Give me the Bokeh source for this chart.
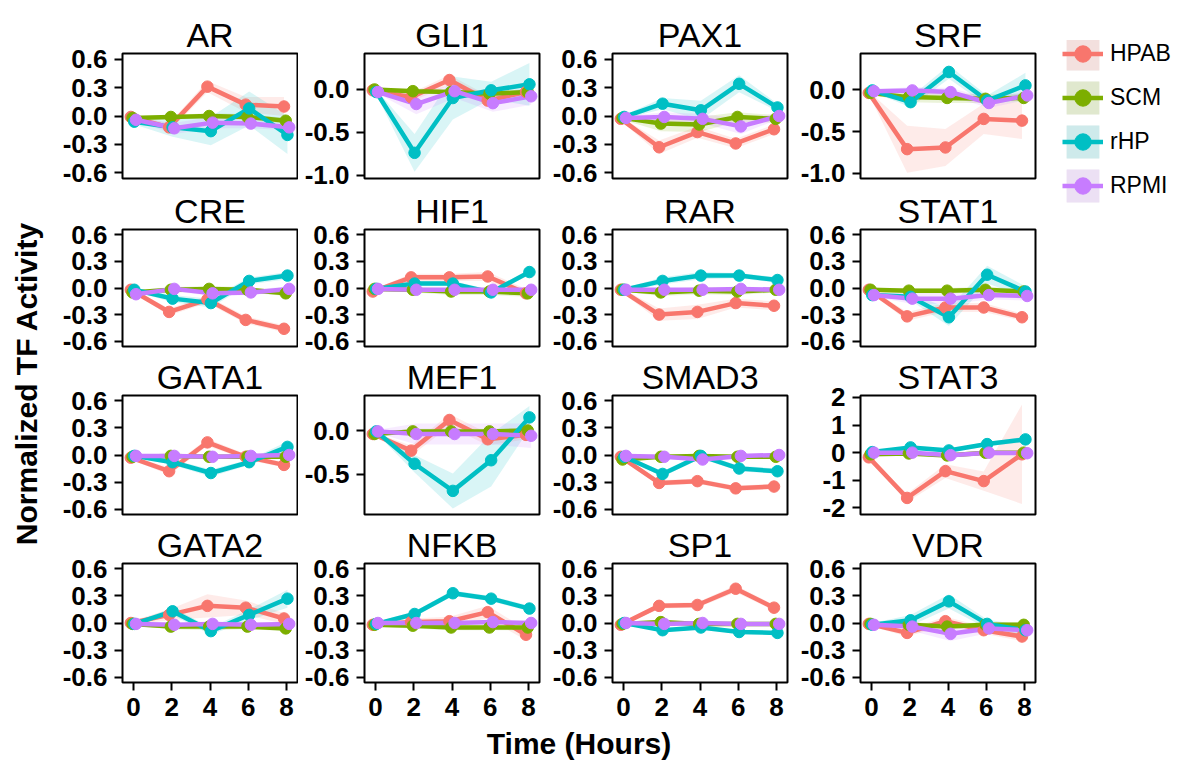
import numpy as np
from bokeh.plotting import figure
from bokeh.layouts import row, column
from bokeh.models import (ColumnDataSource, Range1d, FixedTicker, PrintfTickFormatter,
                          Legend, LegendItem, Label)
from bokeh.embed import file_html
from bokeh.resources import INLINE

FONT = "Liberation Sans"

TIME = [0, 2, 4, 6, 8]
GROUPS = ["HPAB", "SCM", "rHP", "RPMI"]
COLORS = ["#F8766D", "#7CAE00", "#00BFC4", "#C77CFF"]
TFS = ["AR", "GLI1", "PAX1", "SRF",
       "CRE", "HIF1", "RAR", "STAT1",
       "GATA1", "MEF1", "SMAD3", "STAT3",
       "GATA2", "NFKB", "SP1", "VDR"]

HPAB = {
    "AR": [-0.01, -0.12, 0.31, 0.12, 0.10],
    "GLI1": [-0.01, -0.09, 0.11, -0.13, -0.03],
    "PAX1": [-0.03, -0.33, -0.17, -0.29, -0.14],
    "SRF": [-0.04, -0.71, -0.69, -0.35, -0.37],
    "CRE": [-0.02, -0.27, -0.13, -0.36, -0.46],
    "HIF1": [-0.04, 0.12, 0.12, 0.13, -0.06],
    "RAR": [-0.02, -0.30, -0.27, -0.17, -0.20],
    "STAT1": [-0.02, -0.32, -0.22, -0.22, -0.33],
    "GATA1": [-0.03, -0.18, 0.14, -0.02, -0.11],
    "MEF1": [-0.04, -0.23, 0.12, -0.10, -0.05],
    "SMAD3": [-0.02, -0.31, -0.29, -0.37, -0.35],
    "STAT3": [-0.17, -1.64, -0.67, -1.03, -0.06],
    "GATA2": [0.00, 0.09, 0.19, 0.17, 0.05],
    "NFKB": [-0.02, 0.01, 0.02, 0.12, -0.13],
    "SP1": [-0.02, 0.19, 0.20, 0.38, 0.17],
    "VDR": [-0.01, -0.11, 0.02, -0.08, -0.15],
}
SCM = {
    "AR": [-0.02, -0.01, 0.00, -0.01, -0.05],
    "GLI1": [0.00, -0.02, -0.03, -0.05, -0.03],
    "PAX1": [-0.02, -0.08, -0.09, -0.01, -0.03],
    "SRF": [-0.04, -0.09, -0.10, -0.11, -0.10],
    "CRE": [-0.05, -0.02, -0.01, -0.02, -0.06],
    "HIF1": [-0.01, -0.02, -0.04, -0.04, -0.06],
    "RAR": [-0.02, -0.05, -0.03, -0.04, -0.02],
    "STAT1": [-0.02, -0.03, -0.03, -0.02, -0.04],
    "GATA1": [-0.02, -0.01, -0.02, -0.02, -0.02],
    "MEF1": [-0.04, -0.01, -0.01, -0.01, 0.00],
    "SMAD3": [-0.05, -0.02, -0.01, -0.02, -0.02],
    "STAT3": [-0.06, -0.03, -0.10, 0.00, 0.00],
    "GATA2": [-0.01, -0.04, -0.04, -0.04, -0.06],
    "NFKB": [-0.02, -0.03, -0.05, -0.05, -0.05],
    "SP1": [-0.01, 0.01, -0.01, -0.01, -0.01],
    "VDR": [-0.01, -0.02, -0.04, -0.02, -0.02],
}
RHP = {
    "AR": [-0.06, -0.12, -0.16, 0.08, -0.20],
    "GLI1": [-0.03, -0.74, -0.10, -0.01, 0.06],
    "PAX1": [-0.01, 0.13, 0.06, 0.34, 0.09],
    "SRF": [-0.01, -0.15, 0.21, -0.13, 0.05],
    "CRE": [-0.02, -0.12, -0.17, 0.08, 0.14],
    "HIF1": [-0.01, 0.05, 0.05, -0.05, 0.18],
    "RAR": [-0.02, 0.08, 0.14, 0.14, 0.09],
    "STAT1": [-0.08, -0.10, -0.33, 0.15, -0.04],
    "GATA1": [-0.01, -0.08, -0.20, -0.08, 0.09],
    "MEF1": [-0.01, -0.38, -0.69, -0.34, 0.15],
    "SMAD3": [-0.02, -0.21, -0.01, -0.15, -0.18],
    "STAT3": [0.02, 0.19, 0.08, 0.31, 0.48],
    "GATA2": [-0.01, 0.13, -0.09, 0.09, 0.27],
    "NFKB": [-0.01, 0.10, 0.33, 0.27, 0.16],
    "SP1": [0.00, -0.08, -0.05, -0.10, -0.11],
    "VDR": [-0.02, 0.03, 0.24, -0.01, -0.08],
}
RPMI = {
    "AR": [-0.04, -0.13, -0.07, -0.08, -0.12],
    "GLI1": [-0.03, -0.17, -0.02, -0.16, -0.08],
    "PAX1": [-0.02, -0.01, -0.03, -0.11, 0.00],
    "SRF": [-0.02, -0.01, -0.03, -0.16, -0.07],
    "CRE": [-0.07, -0.01, -0.06, -0.05, -0.01],
    "HIF1": [-0.01, -0.02, -0.02, -0.02, -0.02],
    "RAR": [-0.02, -0.02, -0.02, -0.01, -0.02],
    "STAT1": [-0.08, -0.12, -0.12, -0.08, -0.09],
    "GATA1": [-0.01, -0.01, -0.02, -0.01, 0.00],
    "MEF1": [-0.01, -0.04, -0.04, -0.04, -0.06],
    "SMAD3": [-0.01, -0.02, -0.05, -0.01, 0.00],
    "STAT3": [0.00, 0.00, -0.09, 0.00, -0.02],
    "GATA2": [-0.01, -0.02, -0.01, -0.02, -0.01],
    "NFKB": [0.00, 0.00, 0.00, 0.01, 0.00],
    "SP1": [0.00, -0.01, 0.00, -0.01, -0.01],
    "VDR": [-0.02, -0.04, -0.12, -0.06, -0.08],
}

# half-widths of the shaded ribbons
HPAB_SE = {
    "AR": [0.02, 0.04, 0.06, 0.08, 0.10],
    "GLI1": [0.02, 0.05, 0.06, 0.06, 0.05],
    "PAX1": [0.02, 0.07, 0.06, 0.05, 0.05],
    "SRF": [0.02, 0.28, 0.22, 0.18, 0.22],
    "CRE": [0.02, 0.04, 0.04, 0.04, 0.04],
    "HIF1": [0.02, 0.04, 0.04, 0.05, 0.05],
    "RAR": [0.02, 0.07, 0.08, 0.05, 0.05],
    "STAT1": [0.02, 0.05, 0.05, 0.05, 0.04],
    "GATA1": [0.02, 0.04, 0.04, 0.03, 0.03],
    "MEF1": [0.02, 0.06, 0.07, 0.07, 0.05],
    "SMAD3": [0.02, 0.03, 0.03, 0.03, 0.03],
    "STAT3": [0.05, 0.15, 0.25, 0.35, 1.80],
    "GATA2": [0.02, 0.06, 0.13, 0.08, 0.06],
    "NFKB": [0.02, 0.04, 0.05, 0.07, 0.06],
    "SP1": [0.02, 0.03, 0.03, 0.04, 0.03],
    "VDR": [0.02, 0.04, 0.05, 0.04, 0.05],
}
SCM_SE = {
    "AR": [0.02, 0.02, 0.03, 0.03, 0.03],
    "GLI1": [0.02, 0.03, 0.03, 0.03, 0.03],
    "PAX1": [0.02, 0.08, 0.08, 0.05, 0.04],
    "SRF": [0.02, 0.06, 0.06, 0.05, 0.05],
    "CRE": [0.02, 0.03, 0.03, 0.03, 0.03],
    "HIF1": [0.02, 0.03, 0.04, 0.04, 0.04],
    "RAR": [0.02, 0.04, 0.04, 0.04, 0.03],
    "STAT1": [0.02, 0.03, 0.03, 0.03, 0.03],
    "GATA1": [0.02, 0.02, 0.02, 0.02, 0.02],
    "MEF1": [0.02, 0.03, 0.03, 0.03, 0.03],
    "SMAD3": [0.02, 0.02, 0.02, 0.02, 0.02],
    "STAT3": [0.03, 0.05, 0.05, 0.05, 0.05],
    "GATA2": [0.02, 0.03, 0.04, 0.03, 0.03],
    "NFKB": [0.02, 0.03, 0.03, 0.03, 0.03],
    "SP1": [0.02, 0.02, 0.02, 0.02, 0.02],
    "VDR": [0.02, 0.03, 0.03, 0.03, 0.03],
}
RHP_SE = {
    "AR": [0.03, 0.10, 0.15, 0.18, 0.20],
    "GLI1": [0.03, 0.22, 0.25, 0.10, 0.25],
    "PAX1": [0.02, 0.06, 0.10, 0.09, 0.04],
    "SRF": [0.02, 0.06, 0.08, 0.06, 0.15],
    "CRE": [0.02, 0.04, 0.05, 0.04, 0.04],
    "HIF1": [0.02, 0.03, 0.03, 0.03, 0.03],
    "RAR": [0.02, 0.04, 0.04, 0.03, 0.03],
    "STAT1": [0.02, 0.04, 0.10, 0.10, 0.06],
    "GATA1": [0.02, 0.03, 0.04, 0.03, 0.06],
    "MEF1": [0.02, 0.10, 0.20, 0.30, 0.13],
    "SMAD3": [0.02, 0.03, 0.03, 0.03, 0.03],
    "STAT3": [0.03, 0.08, 0.08, 0.08, 0.10],
    "GATA2": [0.02, 0.04, 0.04, 0.06, 0.10],
    "NFKB": [0.02, 0.03, 0.03, 0.03, 0.03],
    "SP1": [0.02, 0.02, 0.02, 0.02, 0.02],
    "VDR": [0.02, 0.06, 0.08, 0.05, 0.05],
}
RPMI_SE = {
    "AR": [0.02, 0.06, 0.06, 0.05, 0.03],
    "GLI1": [0.02, 0.12, 0.08, 0.10, 0.10],
    "PAX1": [0.02, 0.05, 0.05, 0.08, 0.03],
    "SRF": [0.02, 0.04, 0.05, 0.06, 0.05],
    "CRE": [0.02, 0.03, 0.03, 0.03, 0.03],
    "HIF1": [0.02, 0.02, 0.02, 0.02, 0.02],
    "RAR": [0.02, 0.02, 0.02, 0.02, 0.02],
    "STAT1": [0.02, 0.06, 0.06, 0.05, 0.05],
    "GATA1": [0.02, 0.02, 0.02, 0.02, 0.02],
    "MEF1": [0.02, 0.12, 0.12, 0.12, 0.14],
    "SMAD3": [0.02, 0.02, 0.02, 0.02, 0.02],
    "STAT3": [0.03, 0.05, 0.05, 0.05, 0.05],
    "GATA2": [0.02, 0.02, 0.02, 0.02, 0.02],
    "NFKB": [0.02, 0.02, 0.02, 0.02, 0.02],
    "SP1": [0.02, 0.02, 0.02, 0.02, 0.02],
    "VDR": [0.02, 0.05, 0.08, 0.05, 0.04],
}

X_TICKS = [0, 2, 4, 6, 8]
STD_TICKS = [-0.6, -0.3, 0.0, 0.3, 0.6]
Y_TICKS = {"GLI1": [-1.0, -0.5, 0.0], "SRF": [-1.0, -0.5, 0.0],
           "MEF1": [-0.5, 0.0], "STAT3": [-2, -1, 0, 1, 2]}
Y_RANGES = {"GLI1": (-1.04, 0.42), "SRF": (-1.06, 0.43),
            "MEF1": (-0.96, 0.40), "STAT3": (-2.24, 2.07)}

VALUES = {"HPAB": HPAB, "SCM": SCM, "rHP": RHP, "RPMI": RPMI}
ERRORS = {"HPAB": HPAB_SE, "SCM": SCM_SE, "rHP": RHP_SE, "RPMI": RPMI_SE}
DODGE = [-0.135, -0.045, 0.045, 0.135]

FRAME_W, FRAME_H = 175, 125
YLAB_W = 56
LEFT = 66
RIGHTS = [1, 7, 7, 2]
TOPS = [53, 32, 34, 34]
BOTTOMS = [11, 9, 9, 44]
LEG_W = 140
PAGE_H = 760


def style_axis(ax):
    ax.axis_line_color = None
    ax.major_tick_line_color = "black"
    ax.major_tick_line_width = 2
    ax.major_tick_out = 8
    ax.major_tick_in = 0
    ax.minor_tick_line_color = None
    ax.major_label_text_font = FONT
    ax.major_label_text_font_style = "bold"
    ax.major_label_text_font_size = "26px"
    ax.major_label_text_color = "black"
    ax.major_label_standoff = 7


def hide_title(f):
    f.title.text_font_size = "0px"
    f.title.standoff = 0
    f.title.offset = 0
    f.title.visible = False


def panel(tf, r, c):
    yr = Y_RANGES.get(tf, (-0.66, 0.66))
    p = figure(width=LEFT + FRAME_W + RIGHTS[c],
               height=TOPS[r] + FRAME_H + BOTTOMS[r],
               x_range=Range1d(-0.57, 8.57), y_range=Range1d(*yr),
               output_backend="svg", toolbar_location=None,
               x_axis_location="below" if r == 3 else None,
               title=tf,
               min_border_left=LEFT, min_border_right=RIGHTS[c],
               min_border_top=TOPS[r], min_border_bottom=BOTTOMS[r])
    p.title.align = "center"
    p.title.text_font = FONT
    p.title.text_font_style = "normal"
    p.title.text_font_size = "34px"
    p.title.text_line_height = 0.8
    p.title.text_color = "black"
    p.title.standoff = 0
    p.title.offset = 0
    p.grid.visible = False
    p.outline_line_color = "black"
    p.outline_line_width = 2
    p.outline_line_alpha = 1
    p.background_fill_color = "white"
    p.border_fill_color = "white"

    ticks = Y_TICKS.get(tf, STD_TICKS)
    p.yaxis.ticker = FixedTicker(ticks=ticks)
    p.yaxis.formatter = PrintfTickFormatter(format="%d" if tf == "STAT3" else "%.1f")
    style_axis(p.yaxis[0])
    if r == 3:
        p.xaxis.ticker = FixedTicker(ticks=X_TICKS)
        p.xaxis.formatter = PrintfTickFormatter(format="%d")
        style_axis(p.xaxis[0])

    sources = []
    for g, off in zip(GROUPS, DODGE):
        y = np.array(VALUES[g][tf], dtype=float)
        e = np.array(ERRORS[g][tf], dtype=float)
        x = np.array(TIME, dtype=float) + off
        sources.append(ColumnDataSource(dict(x=x, y=y, lo=y - e, hi=y + e)))
    for src, col in zip(sources, COLORS):
        p.varea(x="x", y1="lo", y2="hi", source=src, fill_color=col, fill_alpha=0.15)
    for src, col in zip(sources, COLORS):
        p.line(x="x", y="y", source=src, line_color=col, line_width=4.5, line_join="round")
    for src, col in zip(sources, COLORS):
        p.scatter(x="x", y="y", source=src, marker="circle", size=11.5,
                  fill_color=col, line_color=col)
    return p, sources


rows = []
all_sources = {}
for r in range(4):
    figs = []
    for c in range(4):
        tf = TFS[r * 4 + c]
        f, srcs = panel(tf, r, c)
        all_sources[tf] = srcs
        figs.append(f)
    rows.append(row(figs, spacing=0))
panels = column(rows, spacing=0)

TOTAL_H = sum(TOPS) + 4 * FRAME_H + sum(BOTTOMS)
COLS_W = sum(LEFT + FRAME_W + rr for rr in RIGHTS)

# y-axis title
ylab = figure(width=YLAB_W, height=TOTAL_H, output_backend="svg", toolbar_location=None,
              x_range=Range1d(0, 1), y_range=Range1d(0, 1),
              x_axis_location=None, y_axis_location=None,
              title="Normalized TF Activity", title_location="left",
              min_border_left=42, min_border_right=0,
              min_border_top=2 * 383 - TOTAL_H, min_border_bottom=0)
ylab.outline_line_color = None
ylab.grid.visible = False
ylab.title.align = "center"
ylab.title.text_font = FONT
ylab.title.text_font_style = "bold"
ylab.title.text_font_size = "30px"
ylab.title.text_color = "black"
ylab.title.standoff = 0

# legend (keys reuse the series of one panel; its ranges keep the marks out of view)
leg = figure(width=LEG_W, height=TOTAL_H, output_backend="svg", toolbar_location=None,
             x_range=Range1d(100, 101), y_range=Range1d(100, 101),
             x_axis_location=None, y_axis_location=None, min_border=0)
hide_title(leg)
leg.outline_line_color = None
leg.grid.visible = False
key_sources = all_sources["SRF"]
backdrop = leg.varea(x="x", y1="lo", y2="hi", source=key_sources[0],
                     fill_color="#F2F2F2", fill_alpha=1)
items = []
for g, col, src in zip(GROUPS, COLORS, key_sources):
    band = leg.varea(x="x", y1="lo", y2="hi", source=src, fill_color=col, fill_alpha=0.15)
    ln = leg.line(x="x", y="y", source=src, line_color=col, line_width=4.5)
    pt = leg.scatter(x="x", y="y", source=src, marker="circle", size=11.5,
                     fill_color=col, line_color=col)
    items.append(LegendItem(label=g, renderers=[backdrop, band, ln, pt]))
LEG_KEY = 41
LEG_SP = 3
leg_h = 4 * LEG_KEY + 3 * LEG_SP
legend = Legend(items=items, location=(25, TOTAL_H - 33 - leg_h), margin=0, padding=0,
                spacing=LEG_SP, glyph_width=LEG_KEY, glyph_height=LEG_KEY, label_standoff=7,
                label_text_font=FONT, label_text_font_size="23px",
                label_text_color="black",
                border_line_alpha=0, background_fill_alpha=0)
leg.add_layout(legend)

# x-axis title
XLAB_H = PAGE_H - TOTAL_H
xlab = figure(width=YLAB_W + COLS_W, height=XLAB_H, output_backend="svg", toolbar_location=None,
              x_range=Range1d(0, 1), y_range=Range1d(0, 1),
              x_axis_location=None, y_axis_location=None,
              min_border_left=YLAB_W + LEFT, min_border_right=RIGHTS[3],
              min_border_top=0, min_border_bottom=0)
hide_title(xlab)
xlab.outline_line_color = None
xlab.grid.visible = False
xlab.add_layout(Label(x=0.5, y=XLAB_H / 2, y_units="screen", text="Time (Hours)",
                      text_align="center", text_baseline="middle", text_font=FONT,
                      text_font_style="bold", text_font_size="30px", text_color="black"))

p = column(row(ylab, panels, leg, spacing=0), xlab, spacing=0)

open("out.html", "w").write(file_html(p, INLINE))
